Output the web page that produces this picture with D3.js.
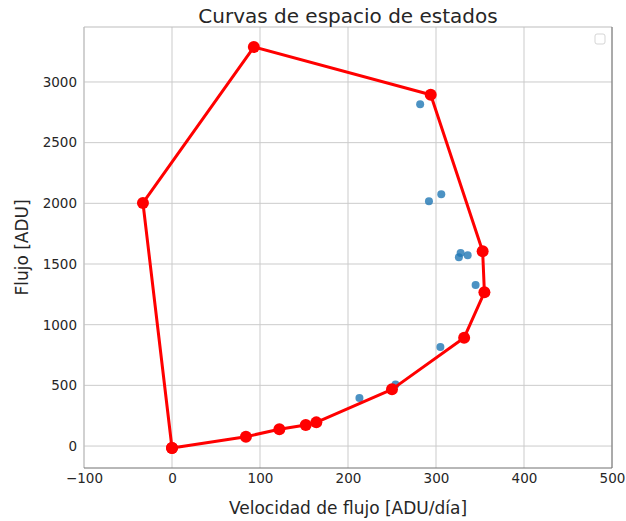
<!DOCTYPE html>
<html>
<head>
<meta charset="utf-8">
<script src="https://cdn.jsdelivr.net/npm/d3@7"></script>
<style>
  body { margin: 0; background: #fff; }
  svg text { font-family: "DejaVu Sans", sans-serif; fill: #262626; }
</style>
</head>
<body>
<svg id="chart" width="626" height="521"></svg>
<script>
// curva (cerrada) en rojo
var curveX = [0, 84, 122, 152, 164, 250, 332, 355, 353, 294, 93, -33, 0];
var curveY = [-16, 77, 138, 173, 195, 467, 893, 1267, 1605, 2895, 3288, 2003, -16];
// puntos observados en azul
var obsX = [282, 306, 292, 328, 326, 336, 345, 305, 254, 213];
var obsY = [2816, 2075, 2017, 1591, 1555, 1572, 1327, 816, 508, 396];

var xTicks = [-100, 0, 100, 200, 300, 400, 500];
var yTicks = [0, 500, 1000, 1500, 2000, 2500, 3000];

(function () {
  'use strict';
  var svg = d3.select('#chart');
  var m = { left: 84, right: 612, top: 27, bottom: 468 };

  var x = d3.scaleLinear().domain([-100, 500]).range([m.left, m.right]);
  var y = d3.scaleLinear().domain([-181, 3453]).range([m.bottom, m.top]);

  // grid
  svg.append('g').selectAll('line').data(xTicks).enter().append('line')
    .attr('x1', d => x(d)).attr('x2', d => x(d))
    .attr('y1', m.top).attr('y2', m.bottom)
    .attr('stroke', '#cbcbcb').attr('stroke-width', 1);
  svg.append('g').selectAll('line').data(yTicks).enter().append('line')
    .attr('x1', m.left).attr('x2', m.right)
    .attr('y1', d => y(d)).attr('y2', d => y(d))
    .attr('stroke', '#cbcbcb').attr('stroke-width', 1);

  // spines
  svg.append('line').attr('x1', m.left).attr('x2', m.right).attr('y1', m.top).attr('y2', m.top)
    .attr('stroke', '#bdbdbd');
  svg.append('line').attr('x1', m.left).attr('x2', m.left).attr('y1', m.top).attr('y2', m.bottom)
    .attr('stroke', '#bdbdbd');
  svg.append('line').attr('x1', m.right).attr('x2', m.right).attr('y1', m.top).attr('y2', m.bottom)
    .attr('stroke', '#707070');
  svg.append('line').attr('x1', m.left).attr('x2', m.right).attr('y1', m.bottom).attr('y2', m.bottom)
    .attr('stroke', '#707070');

  // axes (labels only, no tick marks)
  var xAxis = svg.append('g').attr('transform', 'translate(0,' + m.bottom + ')')
    .call(d3.axisBottom(x).tickValues(xTicks).tickSize(0).tickPadding(5)
      .tickFormat(d => (d < 0 ? '\u2212' + Math.abs(d) : String(d))));
  var yAxis = svg.append('g').attr('transform', 'translate(' + m.left + ',0)')
    .call(d3.axisLeft(y).tickValues(yTicks).tickSize(0).tickPadding(7)
      .tickFormat(d3.format('d')));
  [xAxis, yAxis].forEach(function (g) {
    g.select('.domain').remove();
    g.selectAll('text').attr('font-size', 13.5).attr('font-family', '"DejaVu Sans", sans-serif')
      .style('fill', '#262626');
  });

  // blue points
  svg.append('g').selectAll('circle').data(obsX).enter().append('circle')
    .attr('cx', d => x(d)).attr('cy', (d, i) => y(obsY[i])).attr('r', 4)
    .attr('fill', '#1f77b4').attr('fill-opacity', 0.8);

  // red curve
  var pts = curveX.map((d, i) => [d, curveY[i]]);
  svg.append('path').datum(pts)
    .attr('d', d3.line().x(d => x(d[0])).y(d => y(d[1])))
    .attr('fill', 'none').attr('stroke', '#ff0000').attr('stroke-width', 3)
    .attr('stroke-linejoin', 'round');
  svg.append('g').selectAll('circle').data(pts).enter().append('circle')
    .attr('cx', d => x(d[0])).attr('cy', d => y(d[1])).attr('r', 6)
    .attr('fill', '#ff0000');

  // empty legend
  svg.append('rect').attr('x', 595).attr('y', 34).attr('width', 10).attr('height', 10)
    .attr('rx', 2).attr('fill', '#fff').attr('stroke', '#d5d5d5');

  // titles
  svg.append('text').attr('x', (m.left + m.right) / 2).attr('y', 23)
    .attr('text-anchor', 'middle').attr('font-size', 20).text('Curvas de espacio de estados');
  svg.append('text').attr('x', (m.left + m.right) / 2).attr('y', 514)
    .attr('text-anchor', 'middle').attr('font-size', 17).text('Velocidad de flujo [ADU/día]');
  svg.append('text').attr('transform', 'translate(28,' + ((m.top + m.bottom) / 2) + ') rotate(-90)')
    .attr('text-anchor', 'middle').attr('font-size', 17).text('Flujo [ADU]');
})();
</script>
</body>
</html>
